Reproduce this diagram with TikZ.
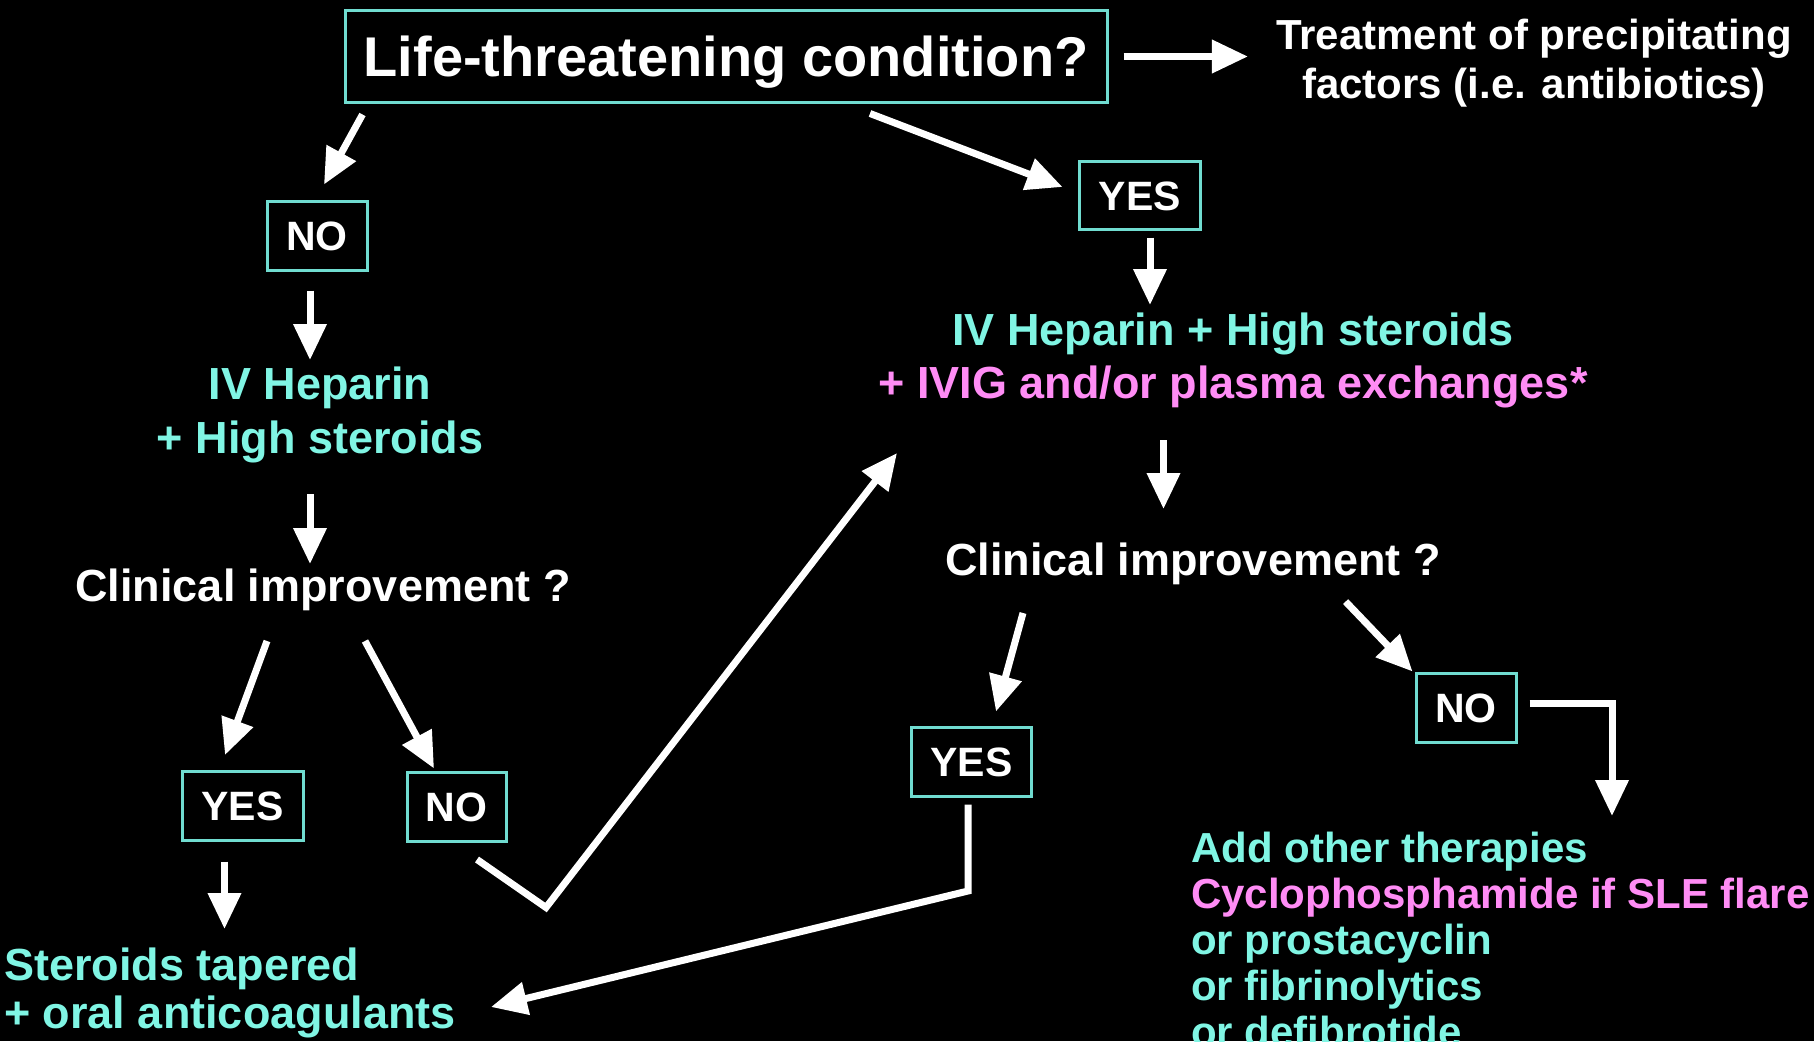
\documentclass[tikz,border=0pt]{standalone}
\usepackage{fontspec}
\setmainfont{Liberation Sans}
\usetikzlibrary{arrows.meta}
\definecolor{cyt}{HTML}{80F5E4}
\definecolor{pnk}{HTML}{FF8CF5}
\definecolor{boxc}{HTML}{70DCD0}
\newcommand\fTitle{\fontsize{56}{60}\selectfont\bfseries}
\newcommand\fTreat{\fontsize{42}{49}\selectfont\bfseries}
\newcommand\fBody{\fontsize{45}{54}\selectfont\bfseries}
\newcommand\fBox{\fontsize{41}{45}\selectfont\bfseries}
\begin{document}
\begin{tikzpicture}[x=1pt,y=-1pt,
  arr/.style={draw=white,line width=7pt,line join=miter,-{Triangle[length=36pt,width=32pt]}},
  boxn/.style={draw=boxc,line width=3pt,inner sep=0pt,text=white,font=\fBox,text height=29.4pt,text depth=0pt},
  txt/.style={inner sep=0pt}]
\path[use as bounding box] (0,0) rectangle (1814,1041);
\fill[black] (0,0) rectangle (1814,1041);
\begin{scope}
\clip (0,0) rectangle (1814,1041);
% nodes
\node[draw=boxc,line width=3pt,inner sep=0pt,text=white,font=\fTitle,text height=40pt,text depth=0pt,minimum width=762pt,minimum height=91pt] (top) at (726,56.5) {Life-threatening condition?};
\node[txt,anchor=north,align=center,text=white,font=\fTreat] (treat) at (1534,19) {Treatment of precipitating\\factors (i.e. antibiotics)};
\node[boxn,minimum width=100pt,minimum height=69pt] (no1) at (317,235.5) {NO};
\node[boxn,minimum width=121pt,minimum height=68pt] (yes1) at (1140,195.5) {YES};
\node[txt,anchor=north,align=center,text=cyt,font={\fontsize{45}{54}\selectfont\bfseries}] (ivl) at (320,367) {IV Heparin\\+ High steroids};
\node[txt,anchor=base,text=white,font=\fBody] (cl) at (323,601) {Clinical improvement ?};
\node[boxn,minimum width=121pt,minimum height=69pt] (yes2) at (242.5,806) {YES};
\node[boxn,minimum width=99pt,minimum height=69pt] (no2) at (456.5,806.5) {NO};
\node[txt,anchor=north west,align=left,text=cyt,font={\fontsize{45}{48}\selectfont\bfseries}] (ster) at (4,948) {Steroids tapered\\+ oral anticoagulants};
\node[txt,anchor=north,align=center,text=cyt,font={\fontsize{45}{53}\selectfont\bfseries}] (ivr) at (1233,313) {IV Heparin + High steroids\\\textcolor{pnk}{+ IVIG and/or plasma exchanges*}};
\node[txt,anchor=base,text=white,font=\fBody] (cr) at (1193,575) {Clinical improvement ?};
\node[boxn,minimum width=120pt,minimum height=69pt] (yes3) at (971.5,762) {YES};
\node[boxn,minimum width=100pt,minimum height=69pt] (no3) at (1466,707.5) {NO};
\node[txt,anchor=north west,align=left,text=cyt,font={\fontsize{42}{46}\selectfont\bfseries}] (add) at (1191,832) {Add other therapies\\\textcolor{pnk}{Cyclophosphamide if SLE flare}\\or prostacyclin\\or fibrinolytics\\or defibrotide};
% connectors
\draw[arr,shorten <=15pt,shorten >=28pt] (top.east) -- (top.east -| treat.west);
\draw[arr] ([shift={(19,11)}]top.south west) -- ([shift={(7,-15)}]no1.north);
\draw[arr] ([shift={(144,10)}]top.south) -- ([shift={(-15.5,-8.5)}]yes1.west);
\draw[arr] ([shift={(10,6.5)}]yes1.south) -- ([shift={(-83,-8)}]ivr.north);
\draw[arr] ([shift={(-7,19)}]no1.south) -- ([shift={(-10,-7)}]ivl.north);
\draw[arr] ([shift={(-10,127)}]ivl.north) -- ([shift={(-13,-37)}]cl.base);
\draw[arr] ([shift={(-56,40)}]cl.base) -- ([shift={(-17.5,-15)}]yes2.north);
\draw[arr] ([shift={(42,40)}]cl.base) -- ([shift={(-22.5,-2)}]no2.north);
\draw[arr] ([shift={(-18,19.5)}]yes2.south) -- ([shift={(220.5,-19)}]ster.north west);
\draw[arr] ([shift={(20.5,17)}]no2.south) -- ([shift={(89.5,65)}]no2.south) -- ([shift={(-336,140)}]ivr.north);
\draw[arr] ([shift={(-69.5,127)}]ivr.north) -- ([shift={(-29.5,-66)}]cr.base);
\draw[arr] ([shift={(-170,38)}]cr.base) -- ([shift={(24.5,-14.5)}]yes3.north);
\draw[arr] ([shift={(152.6,26.6)}]cr.base) -- ([shift={(-2,0)}]no3.north west);
\draw[arr] ([shift={(12,-4.5)}]no3.east) -| ([shift={(421,-16)}]add.north west);
\draw[arr] ([shift={(-3.5,6.5)}]yes3.south) -- ([shift={(-3.5,93)}]yes3.south) -- ([shift={(487,59)}]ster.north west);
\end{scope}
\end{tikzpicture}
\end{document}
